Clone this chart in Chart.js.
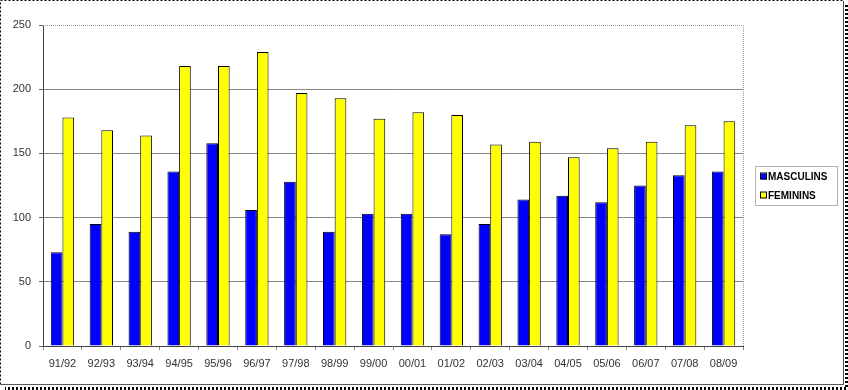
<!DOCTYPE html>
<html>
<head>
<meta charset="utf-8">
<script src="https://cdn.jsdelivr.net/npm/chart.js@4/dist/chart.umd.min.js"></script>
<style>
  html, body { margin: 0; padding: 0; background: #fff; }
  #wrap { width: 848px; height: 390px; }
</style>
</head>
<body>
<div id="wrap"><canvas id="myChart" width="848" height="390"></canvas></div>
<script>
const seasons = ['91/92', '92/93', '93/94', '94/95', '95/96', '96/97', '97/98', '98/99', '99/00',
  '00/01', '01/02', '02/03', '03/04', '04/05', '05/06', '06/07', '07/08', '08/09'];
const masculins = [73, 95, 89, 136, 158, 106, 128, 89, 103, 103, 87, 95, 114, 117, 112, 125, 133, 136];
const feminins = [178, 168, 164, 218, 218, 229, 197, 193, 177, 182, 180, 157, 159, 147, 154, 159, 172, 175];
const yTicks = [0, 50, 100, 150, 200, 250];

// white page, dotted frame with dark shadow, dotted top/right plot border
const framePlugin = {
  id: 'frame',
  beforeDraw(chart) {
    const c = chart.ctx;
    c.save();
    c.fillStyle = '#fff';
    c.fillRect(0, 0, chart.width, chart.height);
    c.restore();
  },
  afterDraw(chart) {
    const c = chart.ctx;
    const a = chart.chartArea;
    c.save();
    // plot area top and right border, dotted grey
    c.strokeStyle = '#999';
    c.lineWidth = 1;
    c.setLineDash([1, 1]);
    c.beginPath();
    c.moveTo(a.left, Math.round(a.top) + 0.5);
    c.lineTo(Math.round(a.right) + 0.5, Math.round(a.top) + 0.5);
    c.lineTo(Math.round(a.right) + 0.5, a.bottom);
    c.stroke();
    // outer frame
    c.strokeStyle = '#000';
    c.setLineDash([2, 2]);
    c.beginPath();
    c.moveTo(0.5, 384.5);
    c.lineTo(0.5, 0.5);
    c.lineTo(844.5, 0.5);
    c.stroke();
    c.setLineDash([]);
    c.strokeStyle = '#555';
    c.beginPath();
    c.moveTo(843.5, 1);
    c.lineTo(843.5, 384.5);
    c.lineTo(1, 384.5);
    c.stroke();
    // shadow
    c.strokeStyle = '#000';
    c.lineWidth = 3;
    c.setLineDash([2, 2]);
    c.beginPath();
    c.moveTo(846.5, 5);
    c.lineTo(846.5, 388.5);
    c.lineTo(5, 388.5);
    c.stroke();
    // legend
    c.setLineDash([1, 1]);
    c.lineWidth = 1;
    c.strokeStyle = '#666';
    c.strokeRect(755.5, 166.5, 82, 39);
    c.setLineDash([]);
    c.font = 'bold 10px "Liberation Sans", Arial, sans-serif';
    c.textBaseline = 'middle';
    chart.data.datasets.forEach((ds, i) => {
      const y = 176.5 + i * 19;
      c.fillStyle = ds.backgroundColor;
      c.fillRect(761, y - 3, 6, 6);
      c.strokeStyle = '#000';
      c.strokeRect(760.5, y - 3.5, 6, 6);
      c.fillStyle = '#000';
      c.fillText(ds.label, 768, y + 0.5);
    });
    c.restore();
  }
};

const ctx = document.getElementById('myChart').getContext('2d');
new Chart(ctx, {
  type: 'bar',
  data: {
    labels: seasons,
    datasets: [{
      label: 'MASCULINS',
      data: masculins,
      backgroundColor: '#0000ff',
      borderColor: '#000',
      borderWidth: 1,
      borderSkipped: 'bottom'
    }, {
      label: 'FEMININS',
      data: feminins,
      backgroundColor: '#ffff00',
      borderColor: '#000',
      borderWidth: 1,
      borderSkipped: 'bottom'
    }]
  },
  options: {
    responsive: false,
    animation: false,
    layout: { padding: { left: 0, right: 105, top: 25, bottom: 0 } },
    datasets: { bar: { categoryPercentage: 0.6, barPercentage: 1.0 } },
    plugins: { legend: { display: false }, tooltip: { enabled: false } },
    scales: {
      x: {
        afterFit(s) { s.height = 44; },
        grid: { drawOnChartArea: false, drawTicks: true, tickLength: 4, color: '#888' },
        border: { color: '#444' },
        ticks: {
          padding: 7, color: '#333',
          font: { family: '"Liberation Sans", Arial, sans-serif', size: 11 }
        }
      },
      y: {
        min: 0, max: 250,
        afterFit(s) { s.width = 43; },
        afterBuildTicks(s) { s.ticks = yTicks.map(v => ({ value: v })); },
        grid: {
          color: ctx => (ctx.tick && (ctx.tick.value === 0 || ctx.tick.value === 250)) ? 'rgba(0,0,0,0)' : '#888',
          tickColor: '#666', tickLength: 4, drawTicks: true
        },
        border: { color: '#444' },
        ticks: {
          padding: 8, color: '#333',
          font: { family: '"Liberation Sans", Arial, sans-serif', size: 11 }
        }
      }
    }
  },
  plugins: [framePlugin]
});
</script>
</body>
</html>
